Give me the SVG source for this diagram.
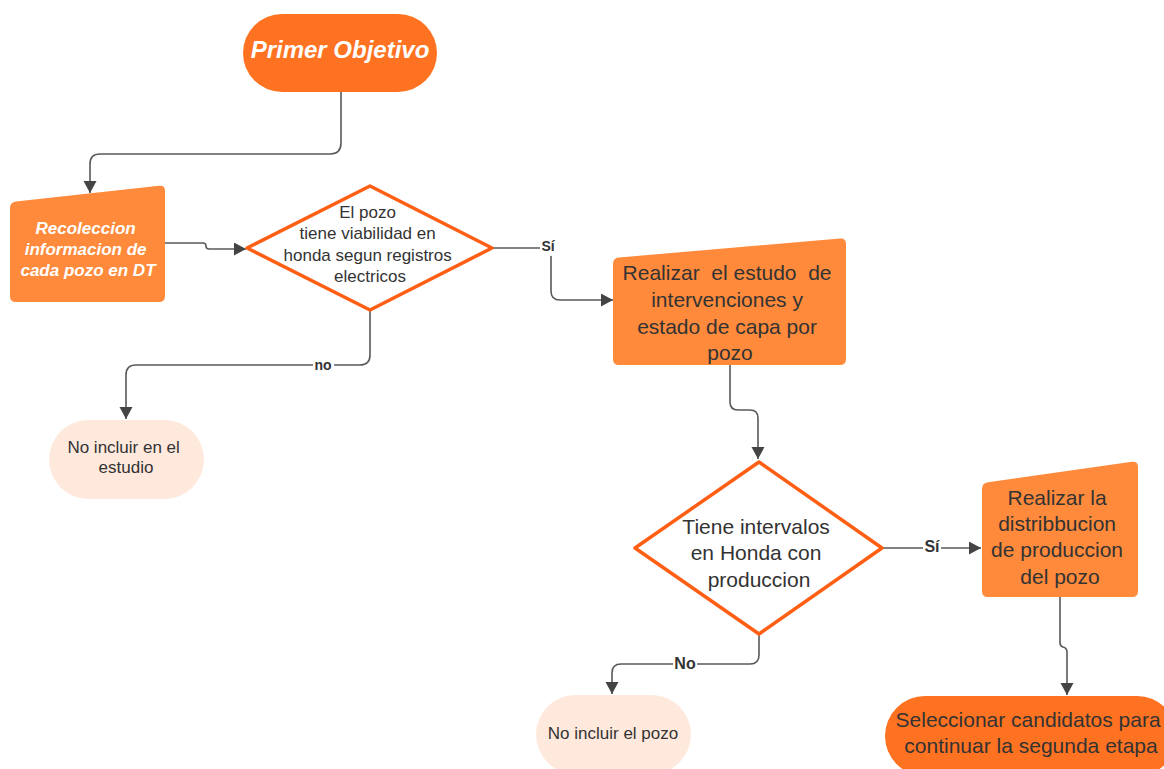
<svg xmlns="http://www.w3.org/2000/svg" width="1164" height="769" viewBox="0 0 1164 769">
  <style>
    .t { font-family: "Liberation Sans", Arial, sans-serif; fill: #333333; text-anchor: middle; }
    .w { fill: #ffffff; font-weight: bold; font-style: italic; }
    .lbl { font-family: "Liberation Sans", Arial, sans-serif; font-weight: bold; fill: #333333; text-anchor: middle; }
    .start { fill: #FF7221; }
    .proc { fill: #FF8A3B; }
    .pale { fill: #FFE9DD; }
    .dec { fill: #ffffff; stroke: #FF5F14; stroke-width: 3.5; stroke-linejoin: round; }
    .conn { fill: none; stroke: #595959; stroke-width: 1.6; }
  </style>
  <defs>
    <marker id="arrow" markerUnits="userSpaceOnUse" markerWidth="14" markerHeight="14" refX="12" refY="6.5" orient="auto">
      <path d="M0,0 L12,6.5 L0,13 Z" fill="#444444"/>
    </marker>
  </defs>
  <rect width="1164" height="769" fill="#ffffff"/>

  <!-- connectors -->
  <g id="connectors">
    <path class="conn" d="M341,92 V143 Q341,154 330,154 H100 Q90,154 90,164 V193" marker-end="url(#arrow)"/>
    <path class="conn" d="M165,243 H203 Q206,243 206,246 Q206,249 209,249 H246" marker-end="url(#arrow)"/>
    <path class="conn" d="M493,248 H551 V291 Q551,300 560,300 H613" marker-end="url(#arrow)"/>
    <path class="conn" d="M370,311 V355 Q370,365 360,365 H136 Q126,365 126,375 V419" marker-end="url(#arrow)"/>
    <path class="conn" d="M730,365 V402 Q730,410 738,410 H750 Q758,410 758,418 V459" marker-end="url(#arrow)"/>
    <path class="conn" d="M883,548 H981" marker-end="url(#arrow)"/>
    <path class="conn" d="M759,635 V655 Q759,664 750,664 H621 Q612,664 612,673 V694" marker-end="url(#arrow)"/>
    <path class="conn" d="M1060,597 V643 Q1060,646 1063,647 Q1067,648 1067,652 V695" marker-end="url(#arrow)"/>
    <rect x="540" y="239" width="17" height="17" fill="#ffffff"/>
    <text class="lbl" x="548" y="251" font-size="14">Sí</text>
    <rect x="313" y="357" width="21" height="15" fill="#ffffff"/>
    <text class="lbl" x="323" y="370" font-size="14">no</text>
    <rect x="673" y="655" width="24" height="17" fill="#ffffff"/>
    <text class="lbl" x="685" y="669" font-size="16">No</text>
    <rect x="923" y="538" width="18" height="17" fill="#ffffff"/>
    <text class="lbl" x="932" y="552" font-size="16">Sí</text>
  </g>

  <g id="primer-objetivo">
    <rect class="start" x="243" y="14" width="194" height="78" rx="39"/>
    <text class="t w" x="340" y="58" font-size="24">Primer Objetivo</text>
  </g>

  <g id="recoleccion">
    <path class="proc" d="M10,208 Q10,202 16,201.4 L159,185.7 Q165,185 165,191 L165,296 Q165,302 159,302 L16,302 Q10,302 10,296 Z"/>
    <text class="t w" font-size="17">
      <tspan x="88" y="234">Recoleccion</tspan>
      <tspan x="88" y="255">informacion de</tspan>
      <tspan x="88" y="276">cada pozo en DT</tspan>
    </text>
  </g>

  <g id="viabilidad">
    <path class="dec" d="M370,186 L492,248 L370,310 L247,248 Z"/>
    <text class="t" font-size="17">
      <tspan x="370" y="218">El pozo</tspan>
      <tspan x="370" y="239">tiene viabilidad en</tspan>
      <tspan x="370" y="261">honda segun registros</tspan>
      <tspan x="370" y="282">electricos</tspan>
    </text>
  </g>

  <g id="estudio-intervenciones">
    <path class="proc" d="M613,264 Q613,258 619,257.5 L840,238.5 Q846,238 846,244 L846,359 Q846,365 840,365 L619,365 Q613,365 613,359 Z"/>
    <text class="t" font-size="21">
      <tspan x="730" y="280">Realizar&#160; el estudo&#160; de</tspan>
      <tspan x="730" y="307">intervenciones y</tspan>
      <tspan x="730" y="334">estado de capa por</tspan>
      <tspan x="730" y="360">pozo</tspan>
    </text>
  </g>

  <g id="no-incluir-estudio">
    <rect class="pale" x="49" y="420" width="155" height="79" rx="39.5"/>
    <text class="t" font-size="17">
      <tspan x="126" y="453">No incluir en el</tspan>
      <tspan x="126" y="473">estudio</tspan>
    </text>
  </g>

  <g id="intervalos-honda">
    <path class="dec" d="M759,462 L882,548 L759,634 L635,548 Z"/>
    <text class="t" font-size="21">
      <tspan x="759" y="534">Tiene intervalos</tspan>
      <tspan x="759" y="560">en Honda con</tspan>
      <tspan x="759" y="587">produccion</tspan>
    </text>
  </g>

  <g id="distribucion">
    <path class="proc" d="M982,489 Q982,483 988,482.2 L1132,461.8 Q1138,461 1138,467 L1138,591 Q1138,597 1132,597 L988,597 Q982,597 982,591 Z"/>
    <text class="t" font-size="21">
      <tspan x="1060" y="505">Realizar la</tspan>
      <tspan x="1060" y="531">distribbucion</tspan>
      <tspan x="1060" y="557">de produccion</tspan>
      <tspan x="1060" y="584">del pozo</tspan>
    </text>
  </g>

  <g id="no-incluir-pozo">
    <rect class="pale" x="536" y="695" width="155" height="79" rx="39.5"/>
    <text class="t" x="613" y="739" font-size="17">No incluir el pozo</text>
  </g>

  <g id="seleccionar">
    <rect class="start" x="885" y="696" width="292" height="80" rx="40"/>
    <text class="t" font-size="21">
      <tspan x="1031" y="727">Seleccionar candidatos para</tspan>
      <tspan x="1031" y="753">continuar la segunda etapa</tspan>
    </text>
  </g>
</svg>
